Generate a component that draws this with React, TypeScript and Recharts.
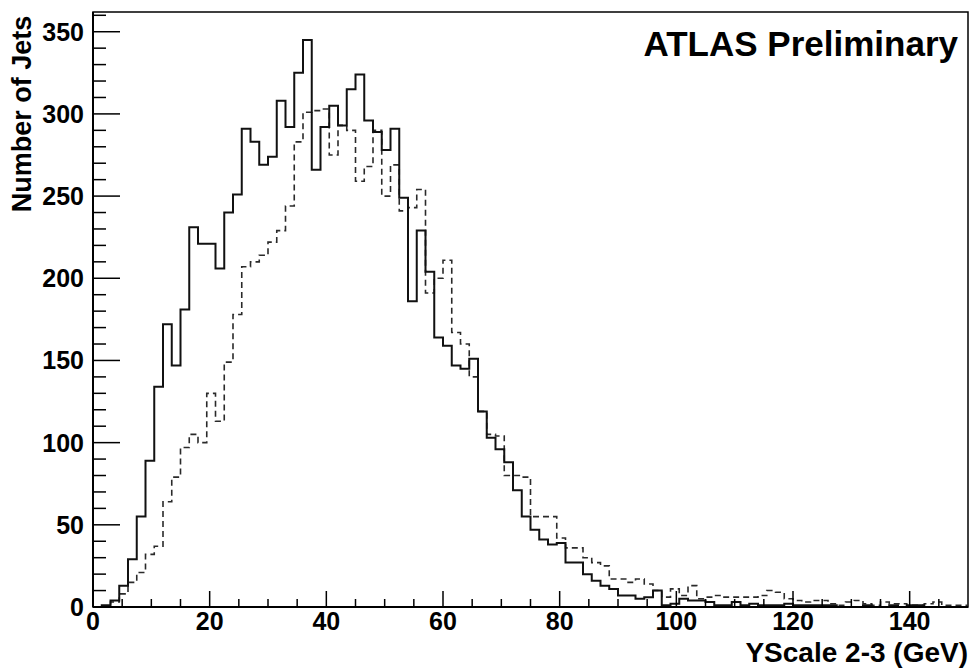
import { ComposedChart, Line, XAxis, YAxis, ReferenceArea } from "recharts";

// 100 bins of 1.5 GeV from 0 to 150
const binWidth = 1.5;

const solidCounts = [
  0, 1, 4, 13, 29, 55, 89, 134, 172, 147,
  181, 231, 221, 221, 206, 240, 251, 291, 283, 269,
  274, 308, 292, 325, 345, 266, 292, 305, 293, 315,
  324, 296, 289, 278, 291, 249, 186, 229, 204, 164,
  159, 147, 145, 151, 119, 103, 96, 88, 71, 55,
  47, 41, 38, 39, 27, 27, 20, 16, 13, 11,
  7, 7, 5, 6, 10, 1, 2, 5, 4, 4,
  3, 1, 1, 3, 1, 2, 1, 1, 1, 2,
  1, 1, 1, 1, 1, 0, 0, 0, 1, 0,
  0, 1, 0, 1, 1, 0, 0, 0, 0, 0,
];

const dashedCounts = [
  0, 0, 3, 8, 15, 21, 32, 37, 64, 79,
  97, 105, 100, 130, 113, 149, 178, 207, 210, 214,
  222, 229, 244, 283, 301, 302, 303, 275, 293, 290,
  259, 268, 290, 250, 269, 241, 243, 254, 191, 200,
  211, 167, 160, 140, 119, 105, 104, 80, 80, 79,
  55, 55, 55, 42, 36, 36, 30, 27, 25, 17,
  17, 15, 17, 14, 10, 6, 11, 7, 13, 5,
  6, 7, 6, 6, 6, 6, 7, 10, 9, 5,
  4, 3, 4, 4, 2, 1, 3, 4, 2, 1,
  3, 2, 2, 1, 1, 2, 3, 1, 1, 1,
];

const xTicks = [
  0, 5, 10, 15, 20, 25, 30, 35, 40, 45, 50, 55, 60, 65, 70, 75,
  80, 85, 90, 95, 100, 105, 110, 115, 120, 125, 130, 135, 140, 145,
];
const yTicks = [
  0, 10, 20, 30, 40, 50, 60, 70, 80, 90, 100, 110, 120, 130, 140, 150,
  160, 170, 180, 190, 200, 210, 220, 230, 240, 250, 260, 270, 280, 290,
  300, 310, 320, 330, 340, 350, 360,
];

const chartData = solidCounts.map((s, i) => ({
  x: i * binWidth,
  solid: s,
  dashed: dashedCounts[i],
}));
// closing edge of the last bin
chartData.push({
  x: solidCounts.length * binWidth,
  solid: solidCounts[solidCounts.length - 1],
  dashed: dashedCounts[dashedCounts.length - 1],
});

const font = '"Liberation Sans", Arial, Helvetica, sans-serif';

function XTick(props: any) {
  const { x, y, payload } = props;
  const v = payload.value;
  const major = v % 20 === 0;
  return (
    <g>
      <line x1={x} x2={x} y1={y} y2={y - (major ? 16 : 8)} stroke="#000" strokeWidth={1.5} />
      {major && (
        <text x={x} y={y + 23} textAnchor="middle" fontFamily={font} fontWeight="bold" fontSize={25} fill="#000">
          {v}
        </text>
      )}
    </g>
  );
}

function YTick(props: any) {
  const { x, y, payload } = props;
  const v = payload.value;
  const major = v % 50 === 0;
  return (
    <g>
      <line x1={x} x2={x + (major ? 27 : 13)} y1={y} y2={y} stroke="#000" strokeWidth={1.5} />
      {major && (
        <text x={x - 9} y={y + 9} textAnchor="end" fontFamily={font} fontWeight="bold" fontSize={25} fill="#000">
          {v}
        </text>
      )}
    </g>
  );
}

export default function App() {
  return (
    <div style={{ position: "absolute", left: 0, top: 0, width: 971, height: 670, background: "#fff", fontFamily: font }}>
      <ComposedChart
        width={971}
        height={670}
        data={chartData}
        margin={{ top: 12, right: 3, bottom: 0, left: 0 }}
      >
        <XAxis
          dataKey="x"
          type="number"
          domain={[0, 150]}
          ticks={xTicks}
          interval={0}
          height={63}
          tickSize={0}
          tickMargin={0}
          tickLine={false}
          axisLine={{ stroke: "#000", strokeWidth: 2 }}
          tick={<XTick />}
        />
        <YAxis
          type="number"
          domain={[0, 362]}
          ticks={yTicks}
          interval={0}
          width={93}
          tickSize={0}
          tickMargin={0}
          tickLine={false}
          axisLine={{ stroke: "#000", strokeWidth: 2 }}
          tick={<YTick />}
        />
        <ReferenceArea x1={0} x2={150} y1={0} y2={362} fill="none" stroke="#000" strokeWidth={1.5} />
        <Line
          type="stepAfter"
          dataKey="dashed"
          stroke="#2a2a2a"
          strokeWidth={1.6}
          strokeDasharray="6 4"
          dot={false}
          isAnimationActive={false}
        />
        <Line
          type="stepAfter"
          dataKey="solid"
          stroke="#111"
          strokeWidth={2}
          dot={false}
          isAnimationActive={false}
        />
      </ComposedChart>
      <div
        style={{
          position: "absolute",
          right: 13,
          top: 26,
          fontSize: 35,
          fontWeight: "bold",
          lineHeight: 1,
          whiteSpace: "nowrap",
        }}
      >
        ATLAS Preliminary
      </div>
      <div
        style={{
          position: "absolute",
          right: 3,
          top: 639,
          fontSize: 28,
          fontWeight: "bold",
          lineHeight: 1,
          whiteSpace: "nowrap",
        }}
      >
        YScale 2-3 (GeV)
      </div>
      <div
        style={{
          position: "absolute",
          left: 22,
          top: 114,
          transform: "translate(-50%, -50%) rotate(-90deg)",
          fontSize: 27,
          fontWeight: "bold",
          lineHeight: 1,
          whiteSpace: "nowrap",
        }}
      >
        Number of Jets
      </div>
    </div>
  );
}
